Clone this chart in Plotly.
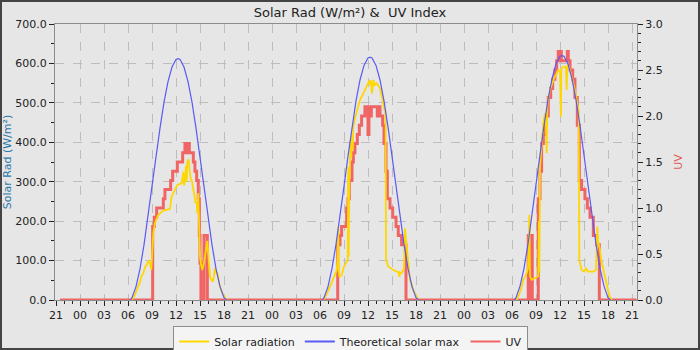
import plotly.graph_objects as go

# ---------------- data ----------------
DAYS = ["2024-05-19", "2024-05-20", "2024-05-21", "2024-05-22"]
START_T = "21:30"   # first sample (day 0)
END_T = "21:35"     # last sample (day 3)

# UV index (step series) per day: change times and values
uv_d1_t = ["09:05", "09:17", "09:35", "10:25", "10:37", "11:20", "11:35", "12:10", "12:50", "13:07",
           "13:15", "13:20", "13:30", "13:35", "13:40", "14:10", "14:22", "14:35", "14:47", "14:55",
           "15:00", "15:07", "15:30", "15:55"]
uv_d1_v = [0.8, 0.9, 1.0, 1.1, 1.2, 1.3, 1.4, 1.5, 1.6, 1.7,
           1.6, 1.7, 1.6, 1.7, 1.6, 1.5, 1.4, 1.3, 1.1, 0.7,
           0.4, 0.0, 0.7, 0.0]
uv_d2_t = ["08:13", "08:30", "08:42", "09:20", "09:30", "09:40", "10:00", "10:10", "10:22", "10:40",
           "10:55", "11:12", "11:37", "12:00", "12:07", "12:20", "12:25", "13:10", "13:15", "13:30",
           "13:50", "14:00", "14:15", "14:25", "14:45", "15:05", "15:30", "15:47", "16:12", "16:45"]
uv_d2_v = [0.6, 0.7, 0.8, 1.0, 1.1, 1.3, 1.5, 1.6, 1.7, 1.8,
           1.9, 2.0, 2.1, 1.8, 2.1, 2.0, 2.1, 2.0, 2.1, 2.0,
           1.9, 1.7, 1.4, 1.1, 1.0, 0.9, 0.8, 0.7, 0.6, 0.0]
uv_d3_t = ["08:02", "08:15", "08:22", "08:32", "09:17", "09:30", "09:42", "09:55", "10:12", "10:32",
           "10:50", "11:05", "11:22", "11:35", "11:47", "11:55", "12:05", "12:10", "12:55", "13:02",
           "13:10", "13:15", "13:35", "13:52", "14:10", "14:25", "14:42", "15:07", "15:25", "15:45",
           "16:10", "16:35", "16:55"]
uv_d3_v = [0.7, 0.0, 0.7, 0.0, 1.1, 1.4, 1.7, 1.8, 2.0, 2.2,
           2.3, 2.4, 2.5, 2.6, 2.7, 2.6, 2.7, 2.6, 2.7, 2.6,
           2.6, 2.5, 2.4, 2.2, 1.9, 1.3, 1.2, 1.1, 1.0, 0.9,
           0.7, 0.6, 0.0]

# Solar radiation (W/m²) per day
sol_d1_t = ["06:28", "06:45", "07:05", "07:30", "07:40", "07:55", "08:10", "08:20", "08:35", "08:45",
            "08:55", "09:00", "09:10", "09:22", "09:47", "10:25", "11:15", "11:27", "11:45", "12:10",
            "12:42", "12:55", "13:00", "13:07", "13:15", "13:20", "13:25", "13:35", "13:42", "13:50",
            "14:00", "14:10", "14:27", "14:35", "14:40", "14:47", "14:52", "15:00", "15:08", "15:17",
            "15:30", "15:37", "15:50", "15:55", "16:02", "16:10", "16:15", "16:35", "16:45", "16:52",
            "17:00", "17:10", "17:20", "17:30", "17:45", "17:55", "18:10", "18:20"]
sol_d1_v = [0, 8, 25, 46, 60, 68, 85, 89, 100, 93,
            76, 120, 170, 195, 216, 227, 231, 262, 275, 292,
            296, 325, 290, 304, 340, 300, 351, 357, 330, 309,
            300, 279, 246, 250, 220, 271, 200, 110, 90, 76,
            95, 110, 139, 150, 114, 80, 59, 46, 60, 80,
            70, 68, 50, 34, 20, 13, 5, 0]
sol_d2_t = ["06:25", "06:50", "07:15", "07:35", "07:52", "08:05", "08:12", "08:17", "08:20", "08:25",
            "08:42", "09:00", "09:20", "09:28", "09:32", "09:35", "09:40", "09:45", "09:50", "09:55",
            "10:00", "10:05", "10:10", "10:22", "10:40", "11:00", "11:25", "11:50", "12:10", "12:15",
            "12:20", "12:30", "12:35", "12:40", "12:50", "13:05", "13:30", "13:50", "14:07", "14:12",
            "14:15", "14:32", "15:10", "15:35", "15:50", "15:55", "16:00", "16:12", "16:30", "16:37",
            "16:45", "16:50", "17:00", "17:15", "17:40", "18:00", "18:17"]
sol_d2_v = [0, 15, 34, 50, 68, 75, 100, 186, 80, 59,
            63, 85, 97, 100, 338, 110, 300, 400, 406, 360,
            420, 380, 440, 461, 482, 507, 524, 541, 556, 545,
            558, 524, 555, 558, 545, 550, 537, 507, 482, 470,
            101, 85, 76, 72, 70, 59, 70, 68, 80, 182,
            150, 135, 90, 51, 25, 10, 0]
sol_d3_t = ["06:35", "07:00", "07:25", "07:50", "08:00", "08:10", "08:15", "08:27", "08:52", "09:10",
            "09:17", "09:22", "09:25", "09:30", "09:42", "09:55", "10:07", "10:15", "10:20", "10:25",
            "10:32", "10:45", "11:10", "11:35", "11:47", "12:00", "12:07", "12:10", "12:25", "12:45",
            "12:50", "12:55", "13:02", "13:15", "13:35", "13:52", "14:10", "14:20", "14:25", "14:42",
            "15:00", "15:15", "15:32", "16:10", "16:30", "16:40", "16:45", "17:00", "17:10", "17:25",
            "17:50", "18:10", "18:27"]
sol_d3_v = [0, 20, 51, 68, 80, 216, 60, 51, 55, 59,
            60, 200, 70, 338, 406, 448, 473, 440, 372, 490,
            511, 533, 558, 575, 583, 580, 465, 585, 592, 590,
            533, 595, 596, 583, 558, 533, 499, 480, 101, 76,
            72, 80, 72, 72, 76, 186, 150, 127, 100, 76,
            34, 10, 0]

# Theoretical solar max (W/m²)
theo_t = ["06:20", "06:30", "07:00", "07:30", "08:00", "08:30", "09:00", "09:30", "10:00", "10:30",
          "11:00", "11:30", "12:00", "12:15", "12:30", "13:00", "13:30", "14:00", "14:30", "15:00",
          "15:30", "16:00", "16:30", "17:00", "17:30", "18:00", "18:20"]
theo_d1_v = [0, 6, 34, 79, 140, 210, 286, 363, 436, 502, 554, 591, 610, 612, 610, 591, 554, 502, 436, 363,
             286, 210, 140, 79, 34, 6, 0]
theo_d2_v = [0, 6, 34, 80, 141, 211, 288, 365, 439, 505, 558, 595, 614, 616, 614, 595, 558, 505, 439, 365,
             288, 211, 141, 80, 34, 6, 0]
theo_d3_v = [0, 6, 35, 80, 142, 213, 290, 368, 442, 508, 561, 599, 618, 620, 618, 599, 561, 508, 442, 368,
             290, 213, 142, 80, 35, 6, 0]

TITLE = "Solar Rad (W/m²) &  UV Index"
LEFT_TITLE = "Solar Rad (W/m²)"
RIGHT_TITLE = "UV"
SERIES_NAMES = ["Solar radiation", "Theoretical solar max", "UV"]

# ---------------- build series ----------------
def stamp(day, t):
    return f"{day} {t}:00"

uv_x = [stamp(DAYS[0], START_T)]
uv_y = [0.0]
for day, ts, vs in [(DAYS[1], uv_d1_t, uv_d1_v), (DAYS[2], uv_d2_t, uv_d2_v), (DAYS[3], uv_d3_t, uv_d3_v)]:
    for t, v in zip(ts, vs, strict=True):
        uv_x.append(stamp(day, t))
        uv_y.append(v)
uv_x.append(stamp(DAYS[3], END_T))
uv_y.append(0.0)

def daily(pairs):
    xs, ys = [], []
    for day, ts, vs in pairs:
        for t, v in zip(ts, vs, strict=True):
            xs.append(stamp(day, t))
            ys.append(v)
        xs.append(None)
        ys.append(None)
    return xs, ys

sol_x, sol_y = daily([(DAYS[1], sol_d1_t, sol_d1_v), (DAYS[2], sol_d2_t, sol_d2_v), (DAYS[3], sol_d3_t, sol_d3_v)])
th_x, th_y = daily([(DAYS[1], theo_t, theo_d1_v), (DAYS[2], theo_t, theo_d2_v), (DAYS[3], theo_t, theo_d3_v)])

# ---------------- figure ----------------
W, H = 700, 350
ML, MR, MT, MB = 55, 63, 24, 50
PW, PH = W - ML - MR, H - MT - MB

FONT = "DejaVu Sans"
BG = "#e6e6e6"
C_SOL, C_TH, C_UV = "#ffd700", "#5a5af5", "#f06464"

fig = go.Figure()
# data traces (legend entries drawn by thin proxy traces below)
fig.add_trace(go.Scatter(x=uv_x, y=uv_y, name=SERIES_NAMES[2], mode="lines",
                         line=dict(color=C_UV, width=3, shape="hv"), yaxis="y", showlegend=False))
fig.add_trace(go.Scatter(x=sol_x, y=sol_y, name=SERIES_NAMES[0], mode="lines",
                         line=dict(color=C_SOL, width=1.8), yaxis="y2", showlegend=False, connectgaps=False))
fig.add_trace(go.Scatter(x=th_x, y=th_y, name=SERIES_NAMES[1], mode="lines",
                         line=dict(color=C_TH, width=1.2), yaxis="y2", showlegend=False, connectgaps=False))
# legend proxies
for name, col, rank in [(SERIES_NAMES[0], C_SOL, 1), (SERIES_NAMES[1], C_TH, 2), (SERIES_NAMES[2], C_UV, 3)]:
    fig.add_trace(go.Scatter(x=[None], y=[None], name=name, mode="lines", line=dict(color=col, width=2),
                             yaxis="y2", legendrank=rank, hoverinfo="skip"))

tickfont = dict(family=FONT, size=11, color="#222")

fig.update_layout(
    width=W, height=H,
    margin=dict(l=ML, r=MR, t=MT, b=MB, pad=0, autoexpand=False),
    paper_bgcolor=BG, plot_bgcolor=BG,
    font=dict(family=FONT, size=11, color="#222"),
    title=dict(text=TITLE, x=0.5, xref="container", xanchor="center", y=1 - 12 / H, yref="container",
               yanchor="middle", font=dict(family=FONT, size=13, color="#222")),
    showlegend=True,
    legend=dict(orientation="h", x=0.508, xanchor="center", y=-26 / PH, yanchor="top",
                bgcolor="#f4f4f4", bordercolor="#8c8c8c", borderwidth=1,
                font=dict(family=FONT, size=11, color="#222"),
                itemwidth=30, traceorder="normal"),
    xaxis=dict(
        type="date",
        range=[f"{DAYS[0]} 20:52:30", f"{DAYS[3]} 21:37:30"],
        tick0=f"{DAYS[0]} 21:00:00", dtick=3 * 3600 * 1000, tickformat="%H",
        ticks="outside", ticklen=5, tickcolor="#222", tickfont=tickfont,
        showgrid=True, gridcolor="#bdbdbd", griddash="dash", gridwidth=1,
        showline=True, linecolor="#8c8c8c", linewidth=1, mirror=True,
        minor=dict(dtick=3600 * 1000, ticks="outside", ticklen=3, tickcolor="#222", showgrid=False),
        zeroline=False,
    ),
    yaxis=dict(
        side="right", range=[0, 3], dtick=0.5, tickformat=".1f",
        ticks="outside", ticklen=5, tickcolor="#222", tickfont=tickfont,
        showgrid=False, zeroline=False,
        showline=True, linecolor="#8c8c8c", linewidth=1,
        minor=dict(dtick=0.1, ticks="outside", ticklen=3, tickcolor="#222", showgrid=False),
        title=dict(text=RIGHT_TITLE, font=dict(family=FONT, size=11, color="#e05a5a"), standoff=12),
    ),
    yaxis2=dict(
        side="left", overlaying="y", range=[0, 700], dtick=100, tickformat=".1f",
        ticks="outside", ticklen=5, tickcolor="#222", tickfont=tickfont,
        showgrid=True, gridcolor="#bdbdbd", griddash="dash", gridwidth=1, zeroline=False,
        showline=True, linecolor="#8c8c8c", linewidth=1,
        minor=dict(dtick=50, ticks="outside", ticklen=3, tickcolor="#222", showgrid=False),
        title=dict(text=LEFT_TITLE, font=dict(family=FONT, size=11, color="#2a78ac"), standoff=1),
    ),
)

# outer frame of the image
fig.add_shape(type="rect", xref="paper", yref="paper",
              x0=-ML / PW, x1=(W - ML) / PW, y0=-MB / PH, y1=(H - MB) / PH,
              line=dict(color="#444", width=4), fillcolor="rgba(0,0,0,0)", layer="above")

fig.write_html("out.html")
